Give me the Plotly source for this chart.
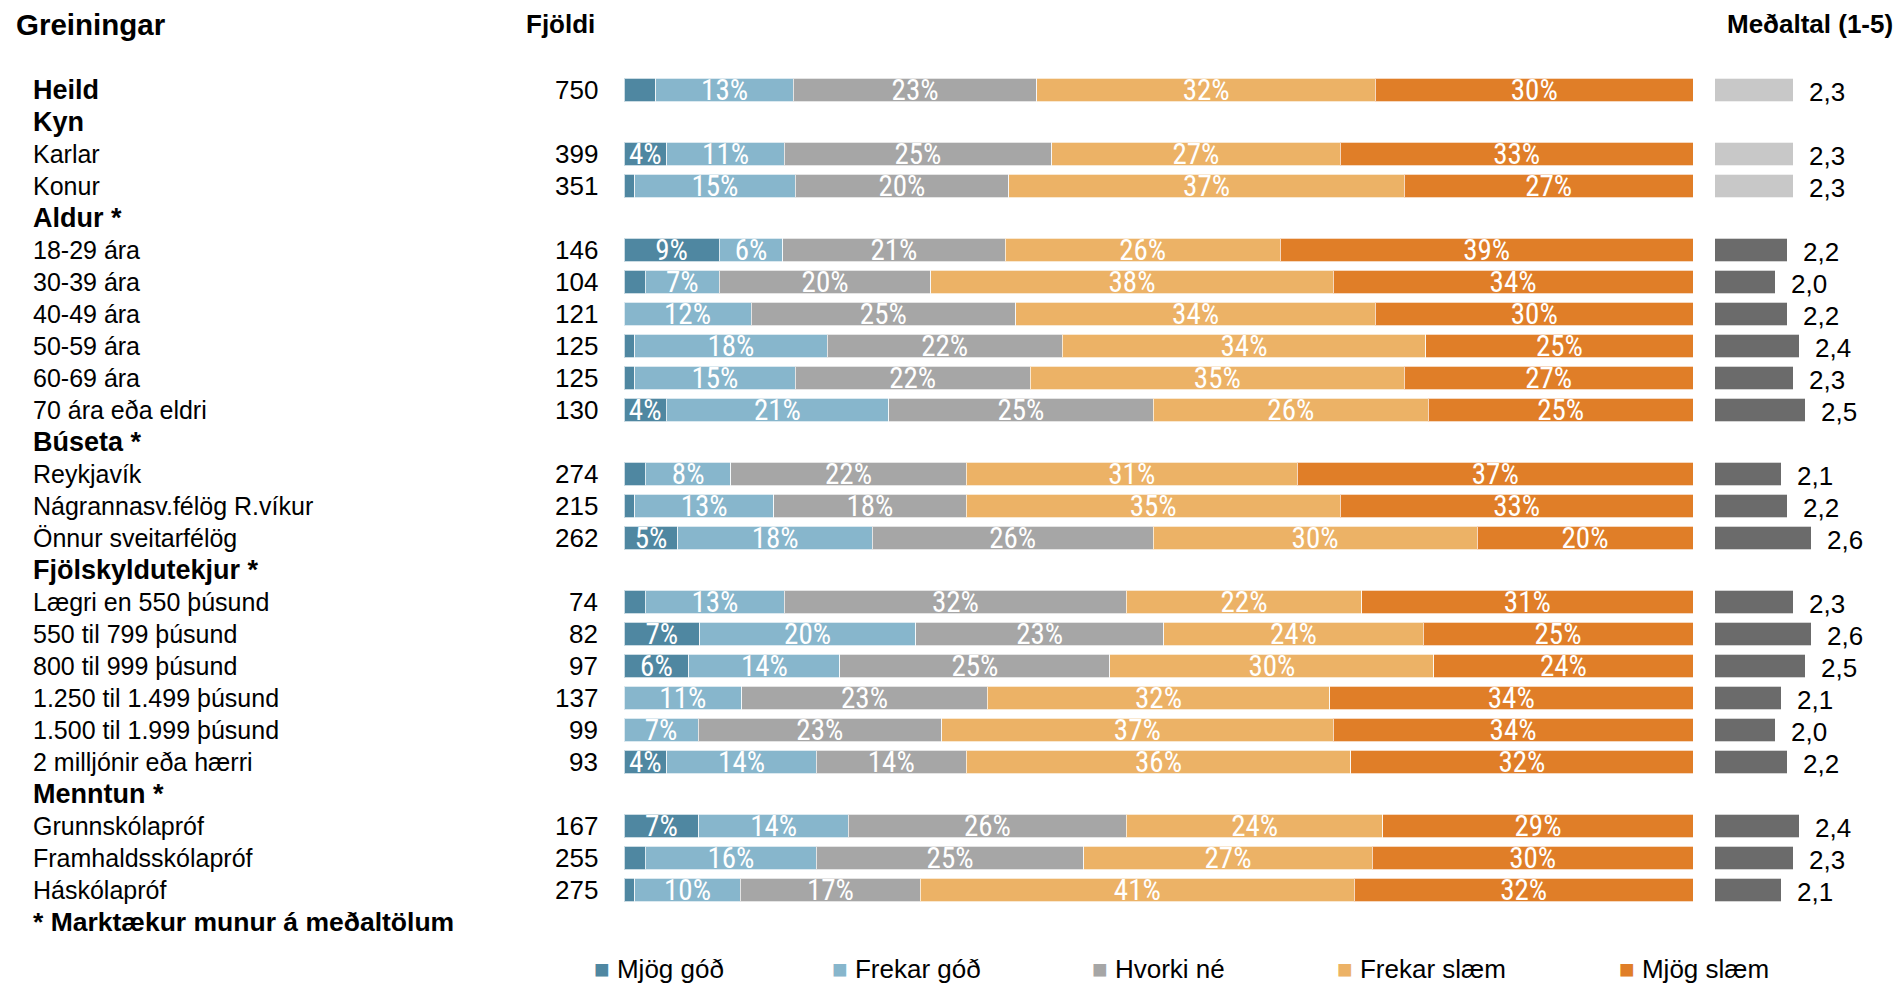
import plotly.graph_objects as go

# ---------------- data ----------------
row_labels = ["Heild", "Kyn", "Karlar", "Konur", "Aldur *", "18-29 ára", "30-39 ára",
              "40-49 ára", "50-59 ára", "60-69 ára", "70 ára eða eldri", "Búseta *",
              "Reykjavík", "Nágrannasv.félög R.víkur", "Önnur sveitarfélög",
              "Fjölskyldutekjur *", "Lægri en 550 þúsund", "550 til 799 þúsund",
              "800 til 999 þúsund", "1.250 til 1.499 þúsund", "1.500 til 1.999 þúsund",
              "2 milljónir eða hærri", "Menntun *", "Grunnskólapróf",
              "Framhaldsskólapróf", "Háskólapróf"]
counts = [750, None, 399, 351, None, 146, 104, 121, 125, 125, 130, None, 274, 215, 262,
          None, 74, 82, 97, 137, 99, 93, None, 167, 255, 275]
mjog_god = [3, None, 4, 1, None, 9, 2, 0, 1, 1, 4, None, 2, 1, 5,
            None, 2, 7, 6, 0, 0, 4, None, 7, 2, 1]
frekar_god = [13, None, 11, 15, None, 6, 7, 12, 18, 15, 21, None, 8, 13, 18,
              None, 13, 20, 14, 11, 7, 14, None, 14, 16, 10]
hvorki_ne = [23, None, 25, 20, None, 21, 20, 25, 22, 22, 25, None, 22, 18, 26,
             None, 32, 23, 25, 23, 23, 14, None, 26, 25, 17]
frekar_slaem = [32, None, 27, 37, None, 26, 38, 34, 34, 35, 26, None, 31, 35, 30,
                None, 22, 24, 30, 32, 37, 36, None, 24, 27, 41]
mjog_slaem = [30, None, 33, 27, None, 39, 34, 30, 25, 27, 25, None, 37, 33, 20,
              None, 31, 25, 24, 34, 34, 32, None, 29, 30, 32]
means = [2.3, None, 2.3, 2.3, None, 2.2, 2.0, 2.2, 2.4, 2.3, 2.5, None, 2.1, 2.2, 2.6,
         None, 2.3, 2.6, 2.5, 2.1, 2.0, 2.2, None, 2.4, 2.3, 2.1]
series_names = ["Mjög góð", "Frekar góð", "Hvorki né", "Frekar slæm", "Mjög slæm"]
footnote = "* Marktækur munur á meðaltölum"

# ---------------- styles ----------------
series_colors = ["#4F87A1", "#87B6CC", "#A6A6A6", "#ECB266", "#E07E28"]
mean_light = "#C8C8C8"
mean_dark = "#6B6B6B"
FONT = "Liberation Sans, Arial, sans-serif"
NARROW = "Liberation Sans Narrow, Arial Narrow, Roboto Condensed, Liberation Sans, Arial, sans-serif"
PAGE_OFF = 8          # default body margin of the html page
W, H = 1903 - 2 * PAGE_OFF, 994 - 2 * PAGE_OFF
ROW_PX = 32.0
ROW0_PX = 90.0 - PAGE_OFF
legend_left_px = [592, 830, 1090, 1335, 1617]   # screen x of legend markers


def px_x(p):
    """screen x pixel -> paper fraction"""
    return (p - PAGE_OFF) / W


def px_y(p):
    """screen y pixel (from top) -> paper fraction"""
    return 1 - (p - PAGE_OFF) / H


series_values = [mjog_god, frekar_god, hvorki_ne, frekar_slaem, mjog_slaem]
data_rows = [i for i, c in enumerate(counts) if c is not None]

# significance flag derived from group headers ("*")
sig = []
cur = False
for i, lab in enumerate(row_labels):
    if counts[i] is None:
        cur = "*" in lab
    sig.append(cur)

row_sums = {i: sum(s[i] for s in series_values) for i in data_rows}

fig = go.Figure()
for name, vals, col in zip(series_names, series_values, series_colors):
    xs = [vals[i] / row_sums[i] * 100 for i in data_rows]
    txt = [f"{vals[i]}%" if vals[i] >= 4 else "" for i in data_rows]
    fig.add_trace(go.Bar(
        y=data_rows, x=xs, orientation="h", name=name,
        marker=dict(color=col, line=dict(color="rgba(255,255,255,0.7)", width=1)),
        text=txt, textposition="inside", insidetextanchor="middle",
        constraintext="none", textangle=0,
        textfont=dict(family=NARROW, size=29, color="white"),
        width=0.74, xaxis="x", yaxis="y", hoverinfo="skip",
    ))

mean_vals = [means[i] for i in data_rows]
fig.add_trace(go.Bar(
    y=data_rows, x=mean_vals, orientation="h", showlegend=False,
    marker=dict(color=[mean_dark if sig[i] else mean_light for i in data_rows],
                line=dict(color="rgba(255,255,255,0.7)", width=1)),
    width=0.74, xaxis="x2", yaxis="y", hoverinfo="skip",
))

annotations = []
# mean value labels, attached to the bar ends through the x2 axis
for i in data_rows:
    annotations.append(dict(
        x=means[i], xref="x2", y=i, yref="y", xanchor="left", yanchor="middle",
        xshift=14, yshift=-2, text=f"{means[i]:.1f}".replace(".", ","), showarrow=False,
        font=dict(family=FONT, size=26, color="black")))
for i, lab in enumerate(row_labels):
    bold = counts[i] is None or i == 0
    annotations.append(dict(
        x=px_x(31), xref="paper", y=i, yref="y", xanchor="left", yanchor="middle",
        text=f"<b>{lab}</b>" if bold else lab, showarrow=False,
        font=dict(family=FONT, size=27 if bold else 25, color="black")))
for i in data_rows:
    annotations.append(dict(
        x=px_x(600), xref="paper", y=i, yref="y", xanchor="right", yanchor="middle",
        text=str(counts[i]), showarrow=False,
        font=dict(family=FONT, size=26, color="black")))
annotations.append(dict(
    x=px_x(31), xref="paper", y=len(row_labels), yref="y", xanchor="left", yanchor="middle",
    text=f"<b>{footnote}</b>", showarrow=False,
    font=dict(family=FONT, size=26.5, color="black")))
annotations += [
    dict(x=px_x(14), xref="paper", y=px_y(24), yref="paper", xanchor="left", yanchor="middle",
         text="<b>Greiningar</b>", showarrow=False, font=dict(family=FONT, size=29.5, color="black")),
    dict(x=px_x(597), xref="paper", y=px_y(24), yref="paper", xanchor="right", yanchor="middle",
         text="<b>Fjöldi</b>", showarrow=False, font=dict(family=FONT, size=26, color="black")),
    dict(x=1.0, xref="paper", y=px_y(24), yref="paper", xanchor="right", yanchor="middle",
         text="<b>Meðaltal (1-5)</b>", showarrow=False, font=dict(family=FONT, size=26, color="black")),
]
# legend (drawn as text so it can sit near the very bottom edge of the page)
for name, col, lx in zip(series_names, series_colors, legend_left_px):
    annotations.append(dict(
        x=px_x(lx), xref="paper", y=0, yref="paper", xanchor="left", yanchor="bottom",
        text=f'<span style="color:{col}">■</span> {name}', showarrow=False,
        font=dict(family=FONT, size=26, color="black")))

top_val = -ROW0_PX / ROW_PX
bot_val = top_val + H / ROW_PX
x2_left_px = 1715
fig.update_layout(
    width=W, height=H, margin=dict(l=0, r=0, t=0, b=0),
    paper_bgcolor="white", plot_bgcolor="white",
    barmode="stack",
    xaxis=dict(domain=[px_x(624), px_x(1693)], range=[0, 100], visible=False, fixedrange=True),
    xaxis2=dict(domain=[px_x(x2_left_px), 1.0],
                range=[1, 1 + (W + PAGE_OFF - x2_left_px) / 60.0], visible=False,
                anchor="y", fixedrange=True),
    yaxis=dict(domain=[0, 1], range=[bot_val, top_val], visible=False, fixedrange=True),
    showlegend=False,
    annotations=annotations,
)

fig.write_html("out.html")
